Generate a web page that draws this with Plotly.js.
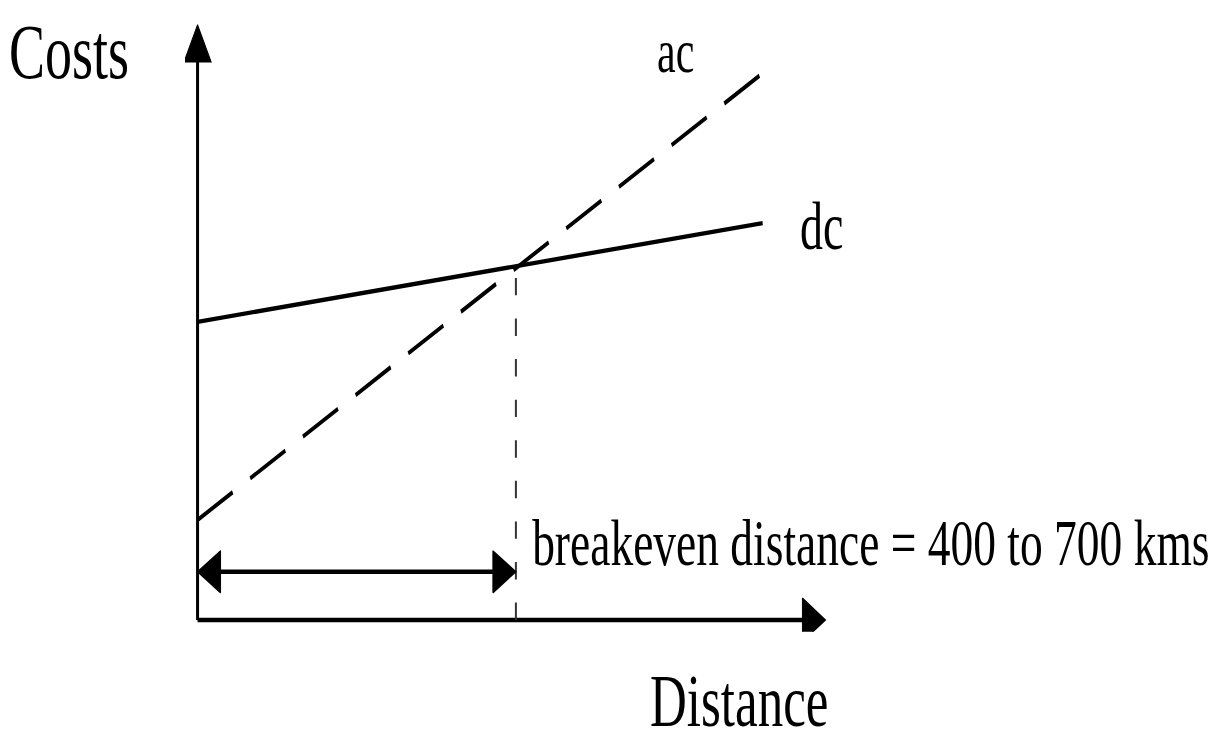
<!DOCTYPE html>
<html>
<head>
<meta charset="utf-8">
<script src="https://cdn.plot.ly/plotly-3.0.1.min.js"></script>
<style>
  html, body { margin: 0; padding: 0; background: #fff; width: 1217px; height: 742px; }
  #wrap { position: relative; width: 1217px; height: 742px; overflow: visible; }
  /* the source picture is stretched vertically, so the plot is drawn short and scaled up */
  #chart { position: absolute; left: 0; top: 0; width: 1217px; height: 512px;
           transform: scaleY(1.4492); transform-origin: 0 0; }
</style>
</head>
<body>
<div id="wrap"><div id="chart"></div></div>
<script>
// data (arbitrary units, 0..100 on each axis)
const distance = [0, 90];
const dcCost = [50.1, 66.7];
const acCost = [16.8, 91.9];
const breakevenX = 50.7;
const breakevenY = 59.5;
const spanArrowY = 8.1;
const axisEnd = 100;

const W = 1217, H = 512;
const margin = { l: 185, r: 379, t: 9, b: 76 };
const xRange = [-2, 102], yRange = [-2, 102];
const pxX = (W - margin.l - margin.r) / (xRange[1] - xRange[0]);
const pxY = (H - margin.t - margin.b) / (yRange[1] - yRange[0]);

// filled triangle pointing at (tx, ty); len / wid in pixels
function head(tx, ty, dir, len, wid) {
  let xs, ys;
  if (dir === 'up') {
    const by = ty - len / pxY, hw = wid / 2 / pxX;
    xs = [tx - hw, tx + hw, tx, tx - hw];
    ys = [by, by, ty, by];
  } else {
    const bx = dir === 'right' ? tx - len / pxX : tx + len / pxX;
    const hh = wid / 2 / pxY;
    xs = [bx, bx, tx, bx];
    ys = [ty - hh, ty + hh, ty, ty - hh];
  }
  return {
    x: xs, y: ys, type: 'scatter', mode: 'lines', fill: 'toself',
    fillcolor: '#000', line: { color: '#000', width: 1 }, hoverinfo: 'skip'
  };
}

function seg(xs, ys, width, dash, color) {
  return {
    x: xs, y: ys, type: 'scatter', mode: 'lines',
    line: { color: color || '#000', width: width, dash: dash || 'solid' },
    hoverinfo: 'skip'
  };
}

const yHeadLen = 25.5, xHeadLen = 23, spanHeadLen = 23;

const traces = [
  // axes
  seg([0, 0], [0, axisEnd - yHeadLen / pxY], 3),
  seg([0, axisEnd - xHeadLen / pxX], [0, 0], 3),
  head(0, axisEnd, 'up', yHeadLen, 27),
  head(axisEnd, 0, 'right', xHeadLen, 30),
  // cost lines
  seg(distance, dcCost, 3),
  seg(distance, acCost, 3, '40px,20px'),
  // breakeven drop line
  seg([breakevenX, breakevenX], [0, breakevenY], 2, '12px,16px', '#333'),
  // distance span arrow
  seg([spanHeadLen / pxX, breakevenX - spanHeadLen / pxX], [spanArrowY, spanArrowY], 3),
  head(0, spanArrowY, 'left', spanHeadLen, 29),
  head(breakevenX, spanArrowY, 'right', spanHeadLen, 29)
];

const serif = '"Liberation Serif", "Times New Roman", serif';
// labels are placed in data units, converted to paper so they may sit outside the axis range
function label(text, x, y, size, anchor) {
  return {
    text: text,
    x: (x - xRange[0]) / (xRange[1] - xRange[0]),
    y: (y - yRange[0]) / (yRange[1] - yRange[0]),
    xref: 'paper', yref: 'paper', showarrow: false,
    xanchor: anchor || 'center', yanchor: 'middle',
    font: { family: serif, size: size, color: '#000' }
  };
}

const layout = {
  width: W, height: H,
  margin: margin,
  paper_bgcolor: '#fff', plot_bgcolor: '#fff',
  showlegend: false,
  xaxis: { range: xRange, visible: false, fixedrange: true },
  yaxis: { range: yRange, visible: false, fixedrange: true },
  annotations: [
    label('Costs', -20.4, 95.5, 54),
    label('ac', 76.1, 95.5, 42),
    label('dc', 99.4, 66, 46),
    label('breakeven distance = 400 to 700 kms', 52.9, 13, 45.5, 'left'),
    label('Distance', 86.3, -13.6, 51)
  ]
};

Plotly.newPlot('chart', traces, layout, { staticPlot: true, displayModeBar: false });
</script>
</body>
</html>
